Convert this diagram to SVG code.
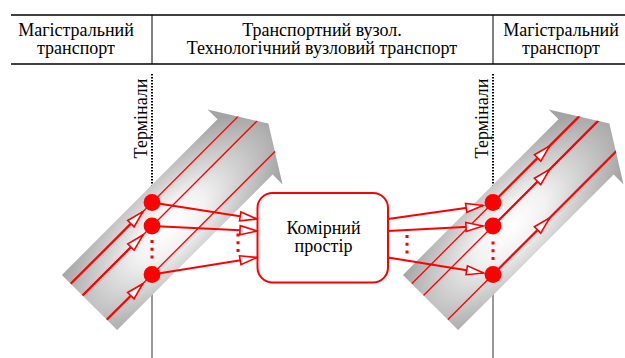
<svg xmlns="http://www.w3.org/2000/svg" width="625" height="358" viewBox="0 0 625 358">
<style>
.thin{stroke:#ff0000;stroke-width:1.3;fill:none}
.thick{stroke:#ff0000;stroke-width:2.2;fill:none}
.conn{stroke:#ff0000;stroke-width:2;fill:none}
.rdots{stroke:#ff0000;stroke-width:3;stroke-dasharray:3 4.8;fill:none}
.node{fill:#ff0000}
</style>
<defs>
<radialGradient id="ag" gradientUnits="userSpaceOnUse" cx="110" cy="4" r="150" gradientTransform="translate(110 4) scale(1 0.42) translate(-110 -4)">
<stop offset="0" stop-color="#ffffff"/>
<stop offset="0.3" stop-color="#f2f2f2"/>
<stop offset="1" stop-color="#a4a4a4"/>
</radialGradient>
<clipPath id="ac" clipPathUnits="userSpaceOnUse">
<path d="M0,-39 L220,-39 L220,-53 L253,0 L220,53 L220,39 L0,39 Z"/>
</clipPath>
<marker id="oa" markerUnits="userSpaceOnUse" markerWidth="20" markerHeight="12" refX="17" refY="6" orient="auto" overflow="visible">
<path d="M17,6 L0,1.5 L0,10.5 Z" fill="#ffffff" stroke="#ff0000" stroke-width="1.6" stroke-linejoin="miter"/>
</marker>
</defs>

<g id="header">
<line x1="11" y1="15" x2="625" y2="15" stroke="#000" stroke-width="1.3"/>
<line x1="11" y1="64" x2="625" y2="64" stroke="#000" stroke-width="1.3"/>
<line x1="152" y1="15" x2="152" y2="64" stroke="#000" stroke-width="1"/>
<line x1="493" y1="15" x2="493" y2="64" stroke="#000" stroke-width="1"/>
<g font-family="Times New Roman" font-size="18" text-anchor="middle" fill="#000">
<text x="76" y="35.5">Магістральний</text>
<text x="76" y="53.5">транспорт</text>
<text x="322" y="35.5">Транспортний вузол.</text>
<text x="322" y="53.5">Технологічний вузловий транспорт</text>
<text x="561" y="35.5">Магістральний</text>
<text x="561" y="53.5">транспорт</text>
</g>
</g>

<g id="terminals-left">
<line x1="152" y1="74" x2="152" y2="192" stroke="#000" stroke-width="2" stroke-dasharray="1.5 1.5"/>
<line x1="152" y1="283" x2="152" y2="358" stroke="#333" stroke-width="1"/>
<text transform="translate(147 118.5) rotate(-90)" x="0" y="0" font-family="Times New Roman" font-size="18" text-anchor="middle" fill="#000">Термінали</text>
</g>
<g id="terminals-right">
<line x1="493" y1="74" x2="493" y2="192" stroke="#000" stroke-width="2" stroke-dasharray="1.5 1.5"/>
<line x1="493" y1="283" x2="493" y2="358" stroke="#333" stroke-width="1"/>
<text transform="translate(488 118.5) rotate(-90)" x="0" y="0" font-family="Times New Roman" font-size="18" text-anchor="middle" fill="#000">Термінали</text>
</g>

<g id="arrow-left" transform="translate(89.5 302.5) rotate(-45)">
<path d="M0,-39 L220,-39 L220,-53 L253,0 L220,53 L220,39 L0,39 Z" fill="url(#ag)"/>
<g clip-path="url(#ac)">
<line class="thin" x1="-5" y1="-26.5" x2="260" y2="-26.5"/>
<line class="thin" x1="-5" y1="-9.9" x2="260" y2="-9.9"/>
<line class="thin" x1="-5" y1="24.4" x2="260" y2="24.4"/>
<line class="thick" x1="-5" y1="-26.5" x2="102" y2="-26.5" marker-end="url(#oa)"/>
<line class="thick" x1="-5" y1="-9.9" x2="85.5" y2="-9.9" marker-end="url(#oa)"/>
<line class="thick" x1="-5" y1="24.4" x2="51" y2="24.4" marker-end="url(#oa)"/>
</g>
</g>

<g id="arrow-right" transform="translate(430.5 302.5) rotate(-45)">
<path d="M0,-39 L220,-39 L220,-53 L253,0 L220,53 L220,39 L0,39 Z" fill="url(#ag)"/>
<g clip-path="url(#ac)">
<line class="thin" x1="-5" y1="-26.5" x2="260" y2="-26.5"/>
<line class="thin" x1="-5" y1="-9.9" x2="260" y2="-9.9"/>
<line class="thin" x1="-5" y1="24.4" x2="260" y2="24.4"/>
<line class="thick" x1="114.9" y1="-26.5" x2="195" y2="-26.5" marker-end="url(#oa)"/>
<line class="thick" x1="195" y1="-26.5" x2="260" y2="-26.5"/>
<line class="thick" x1="98.3" y1="-9.9" x2="178.3" y2="-9.9" marker-end="url(#oa)"/>
<line class="thick" x1="178.3" y1="-9.9" x2="260" y2="-9.9"/>
<line class="thick" x1="64" y1="24.4" x2="144" y2="24.4" marker-end="url(#oa)"/>
<line class="thick" x1="144" y1="24.4" x2="260" y2="24.4"/>
</g>
</g>

<g id="connectors">
<line class="conn" x1="152" y1="202.5" x2="257" y2="219" marker-end="url(#oa)"/>
<line class="conn" x1="152" y1="226" x2="257" y2="231" marker-end="url(#oa)"/>
<line class="conn" x1="152" y1="274.5" x2="257" y2="257.5" marker-end="url(#oa)"/>
<line class="conn" x1="388" y1="219" x2="483" y2="205.5" marker-end="url(#oa)"/>
<line class="conn" x1="388" y1="231" x2="483" y2="226" marker-end="url(#oa)"/>
<line class="conn" x1="388" y1="257.5" x2="483.5" y2="273" marker-end="url(#oa)"/>
<line class="rdots" x1="238" y1="233.5" x2="238" y2="254"/>
<line class="rdots" x1="407" y1="235" x2="407" y2="255"/>
<line class="rdots" x1="152" y1="240" x2="152" y2="261"/>
<line class="rdots" x1="493" y1="241.5" x2="493" y2="262"/>
</g>

<g id="node-l1"><circle class="node" cx="152" cy="202.5" r="8.4"/></g>
<g id="node-l2"><circle class="node" cx="152" cy="226" r="8.4"/></g>
<g id="node-l3"><circle class="node" cx="152" cy="274.5" r="8.4"/></g>
<g id="node-r1"><circle class="node" cx="493" cy="202.5" r="8.4"/></g>
<g id="node-r2"><circle class="node" cx="493" cy="226" r="8.4"/></g>
<g id="node-r3"><circle class="node" cx="493" cy="274.5" r="8.4"/></g>

<g id="storage">
<rect x="257.5" y="193" width="130.5" height="89.5" rx="15" ry="15" fill="#ffffff" stroke="#ff0000" stroke-width="2"/>
<text x="323.5" y="234" font-family="Times New Roman" font-size="18" text-anchor="middle" fill="#000">Комірний</text>
<text x="323.5" y="252" font-family="Times New Roman" font-size="18" text-anchor="middle" fill="#000">простір</text>
</g>
</svg>
